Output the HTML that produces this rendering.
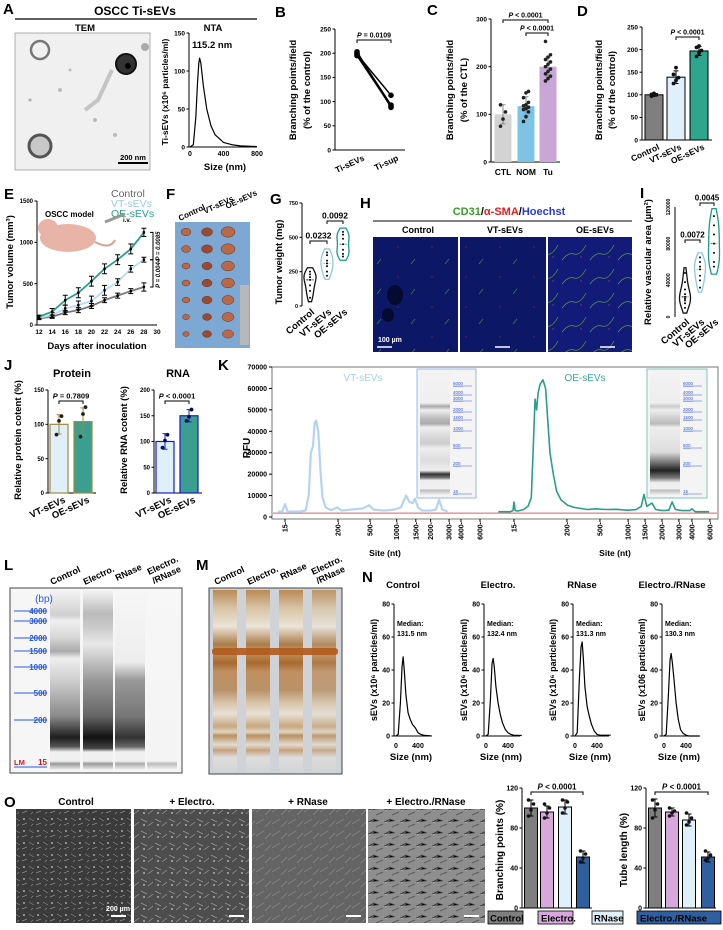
<!DOCTYPE html>
<html><head><meta charset="utf-8"><title>Figure</title>
<style>
html,body{margin:0;padding:0;background:#fff;}
svg{display:block;font-family:"Liberation Sans",Arial,sans-serif;}
.b{font-weight:bold;}
</style></head>
<body>
<svg id="fig" xmlns="http://www.w3.org/2000/svg" width="723" height="930" viewBox="0 0 723 930">
<defs>
<linearGradient id="lgL1" x1="0" y1="0" x2="0" y2="1">
<stop offset="0" stop-color="#f4f4f4"/><stop offset="0.14" stop-color="#cfcfcf"/><stop offset="0.17" stop-color="#f0f0f0"/><stop offset="0.26" stop-color="#d8d8d8"/><stop offset="0.34" stop-color="#aaaaaa"/><stop offset="0.38" stop-color="#eeeeee"/><stop offset="0.5" stop-color="#cfcfcf"/><stop offset="0.7" stop-color="#8a8a8a"/><stop offset="0.82" stop-color="#1e1e1e"/><stop offset="0.87" stop-color="#555"/><stop offset="0.9" stop-color="#f0f0f0"/><stop offset="0.95" stop-color="#f0f0f0"/><stop offset="0.965" stop-color="#999"/><stop offset="1" stop-color="#f4f4f4"/>
</linearGradient>
<linearGradient id="lgL2" x1="0" y1="0" x2="0" y2="1">
<stop offset="0" stop-color="#f4f4f4"/><stop offset="0.13" stop-color="#bbbbbb"/><stop offset="0.2" stop-color="#c8c8c8"/><stop offset="0.3" stop-color="#e8e8e8"/><stop offset="0.5" stop-color="#999"/><stop offset="0.7" stop-color="#666"/><stop offset="0.82" stop-color="#111"/><stop offset="0.88" stop-color="#444"/><stop offset="0.9" stop-color="#f0f0f0"/><stop offset="0.95" stop-color="#f0f0f0"/><stop offset="0.965" stop-color="#999"/><stop offset="1" stop-color="#f4f4f4"/>
</linearGradient>
<linearGradient id="lgL3" x1="0" y1="0" x2="0" y2="1">
<stop offset="0" stop-color="#f6f6f6"/><stop offset="0.4" stop-color="#eeeeee"/><stop offset="0.5" stop-color="#999"/><stop offset="0.7" stop-color="#777"/><stop offset="0.82" stop-color="#333"/><stop offset="0.87" stop-color="#666"/><stop offset="0.9" stop-color="#f0f0f0"/><stop offset="0.95" stop-color="#f0f0f0"/><stop offset="0.965" stop-color="#aaa"/><stop offset="1" stop-color="#f6f6f6"/>
</linearGradient>
<linearGradient id="lgL4" x1="0" y1="0" x2="0" y2="1">
<stop offset="0" stop-color="#f7f7f7"/><stop offset="0.95" stop-color="#f4f4f4"/><stop offset="0.965" stop-color="#bbb"/><stop offset="1" stop-color="#f7f7f7"/>
</linearGradient>
<linearGradient id="lgM" x1="0" y1="0" x2="0" y2="1">
<stop offset="0" stop-color="#b98a55"/><stop offset="0.1" stop-color="#d8c4a4"/><stop offset="0.2" stop-color="#ece4d8"/><stop offset="0.3" stop-color="#a97c48"/><stop offset="0.34" stop-color="#c8a070"/><stop offset="0.36" stop-color="#b8864c"/><stop offset="0.4" stop-color="#a86a2e"/><stop offset="0.45" stop-color="#c09060"/><stop offset="0.55" stop-color="#b89268"/><stop offset="0.62" stop-color="#d8c4a8"/><stop offset="0.68" stop-color="#e8e0d4"/><stop offset="0.75" stop-color="#c8a880"/><stop offset="0.78" stop-color="#e0d4c0"/><stop offset="0.8" stop-color="#b89060"/><stop offset="0.85" stop-color="#e4dcd0"/><stop offset="0.88" stop-color="#c4a27a"/><stop offset="0.92" stop-color="#ddd"/><stop offset="1" stop-color="#d4d4d4"/>
</linearGradient>
<linearGradient id="lgK1" x1="0" y1="0" x2="0" y2="1">
<stop offset="0" stop-color="#f2f2f2"/><stop offset="0.25" stop-color="#f0f0f0"/><stop offset="0.28" stop-color="#aaa"/><stop offset="0.31" stop-color="#eee"/><stop offset="0.38" stop-color="#bbb"/><stop offset="0.42" stop-color="#aaa"/><stop offset="0.45" stop-color="#eee"/><stop offset="0.58" stop-color="#ccc"/><stop offset="0.62" stop-color="#eee"/><stop offset="0.72" stop-color="#ddd"/><stop offset="0.8" stop-color="#eee"/><stop offset="0.83" stop-color="#333"/><stop offset="0.86" stop-color="#777"/><stop offset="0.88" stop-color="#eee"/><stop offset="0.95" stop-color="#f0f0f0"/><stop offset="0.96" stop-color="#bbb"/><stop offset="1" stop-color="#f2f2f2"/>
</linearGradient>
<linearGradient id="lgK2" x1="0" y1="0" x2="0" y2="1">
<stop offset="0" stop-color="#f2f2f2"/><stop offset="0.25" stop-color="#eee"/><stop offset="0.28" stop-color="#ccc"/><stop offset="0.31" stop-color="#eee"/><stop offset="0.38" stop-color="#ccc"/><stop offset="0.42" stop-color="#bbb"/><stop offset="0.45" stop-color="#eee"/><stop offset="0.65" stop-color="#ddd"/><stop offset="0.72" stop-color="#888"/><stop offset="0.8" stop-color="#222"/><stop offset="0.86" stop-color="#777"/><stop offset="0.9" stop-color="#eee"/><stop offset="0.95" stop-color="#f0f0f0"/><stop offset="0.96" stop-color="#bbb"/><stop offset="1" stop-color="#f2f2f2"/>
</linearGradient>
<pattern id="cellsDark" width="14" height="12" patternUnits="userSpaceOnUse">
<rect width="14" height="12" fill="#3b3b3b"/><path d="M1 2 L6 5 M8 9 L13 7 M3 10 L5 8" stroke="#8a8a8a" stroke-width="0.7"/><circle cx="10" cy="3" r="0.9" fill="#c8c8c8"/>
</pattern>
<pattern id="cellsMid" width="14" height="12" patternUnits="userSpaceOnUse">
<rect width="14" height="12" fill="#4d4d4d"/><path d="M1 3 L7 6 M8 10 L13 6" stroke="#999" stroke-width="0.7"/><circle cx="4" cy="9" r="0.9" fill="#ccc"/>
</pattern>
<pattern id="cellsGrey" width="16" height="12" patternUnits="userSpaceOnUse">
<rect width="16" height="12" fill="#646464"/><path d="M0 8 L8 3 M9 11 L15 5" stroke="#8c8c8c" stroke-width="0.7"/>
</pattern>
<pattern id="cellsLight" width="16" height="12" patternUnits="userSpaceOnUse">
<rect width="16" height="12" fill="#8e8e8e"/><path d="M0 6 L6 3 L11 5 M8 11 L15 8" stroke="#4e4e4e" stroke-width="0.7"/><path d="M1 7 L6 4" stroke="#bfbfbf" stroke-width="0.5"/>
</pattern>
<pattern id="fluo" width="34" height="30" patternUnits="userSpaceOnUse">
<rect width="34" height="30" fill="#0c1866"/><path d="M3 24 L7 19" stroke="#3f7a30" stroke-width="0.8"/><circle cx="24" cy="7" r="0.7" fill="#6a2848"/>
</pattern>
<pattern id="fluo2" width="28" height="24" patternUnits="userSpaceOnUse">
<rect width="28" height="24" fill="#121c78"/><path d="M2 20 Q8 12 14 14 T26 5" stroke="#5a9a3e" stroke-width="0.7" fill="none"/><circle cx="21" cy="17" r="0.7" fill="#904060"/>
</pattern>
</defs>

<!-- Panel letters -->
<g class="b" font-size="15">
<text x="3" y="14">A</text>
<text x="275" y="17">B</text>
<text x="427" y="15">C</text>
<text x="577" y="16">D</text>
<text x="4" y="199">E</text>
<text x="166" y="199">F</text>
<text x="270" y="204">G</text>
<text x="360" y="208">H</text>
<text x="640" y="198">I</text>
<text x="4" y="370">J</text>
<text x="218" y="370">K</text>
<text x="4" y="570">L</text>
<text x="196" y="570">M</text>
<text x="362" y="582">N</text>
<text x="4" y="807">O</text>
</g>

<!-- Panel A static -->
<text x="135" y="15" text-anchor="middle" class="b" font-size="12">OSCC Ti-sEVs</text>
<line x1="15" y1="19" x2="257" y2="19" stroke="#000" stroke-width="1.2"/>
<text x="85" y="31" text-anchor="middle" class="b" font-size="9.5">TEM</text>
<g>
<rect x="15" y="33" width="135" height="137" fill="#f0f0f0" stroke="#666" stroke-width="0.5"/>
<circle cx="40" cy="50" r="9" fill="none" stroke="#777" stroke-width="2.5"/>
<circle cx="126" cy="64" r="10" fill="#333" stroke="#111" stroke-width="2"/>
<circle cx="128" cy="66" r="3" fill="#000"/>
<circle cx="40" cy="146" r="11" fill="#c8c8c8" stroke="#555" stroke-width="3"/>
<circle cx="145" cy="47" r="4" fill="#aaa"/>
<path d="M112 70 L98 100 L85 110" stroke="#c4c4c4" stroke-width="4" fill="none"/>
<circle cx="60" cy="90" r="2" fill="#bbb"/><circle cx="95" cy="120" r="2" fill="#bbb"/><circle cx="30" cy="100" r="1.5" fill="#aaa"/><circle cx="115" cy="135" r="2" fill="#bbb"/><circle cx="70" cy="70" r="1.5" fill="#bbb"/>
<line x1="118" y1="163" x2="148" y2="163" stroke="#000" stroke-width="2"/>
<text x="133" y="160" text-anchor="middle" class="b" font-size="7.5">200 nm</text>
</g>
<text x="213" y="31" text-anchor="middle" class="b" font-size="9.5">NTA</text>
<text x="192" y="48" class="b" font-size="9.5">115.2 nm</text>

<!-- Panel E static legend -->
<g font-size="10.5">
<text x="111" y="197" fill="#666">Control</text>
<text x="111" y="207" fill="#9cc8ee">VT-sEVs</text>
<text x="111" y="217" fill="#2aa088">OE-sEVs</text>
</g>
<text x="45" y="217" class="b" font-size="8">OSCC model</text>
<g>
<ellipse cx="68" cy="238" rx="28" ry="14" fill="#e8b4a8"/>
<ellipse cx="48" cy="228" rx="10" ry="9" fill="#e8b4a8"/>
<path d="M95 242 Q110 250 115 240" stroke="#d9a194" stroke-width="2" fill="none"/>
<path d="M105 222 L125 214" stroke="#999" stroke-width="3"/>
<text x="123" y="222" font-size="6" class="b">i.v.</text>
</g>

<!-- F image -->
<g>
<rect x="175" y="222" width="75" height="126" fill="#7ea8d4"/>
<rect x="240" y="285" width="9" height="60" fill="#b8b8b8"/>
</g>
<g class="b" font-size="8">
<text transform="translate(180,221) rotate(-25)">Control</text>
<text transform="translate(205,214) rotate(-25)">VT-sEVs</text>
<text transform="translate(227,209) rotate(-25)">OE-sEVs</text>
</g>

<!-- H images -->
<text x="509" y="215" text-anchor="middle" font-size="11" class="b"><tspan fill="#3a9a2a">CD31</tspan>/<tspan fill="#e02020">α-SMA</tspan>/<tspan fill="#2a3ad0">Hoechst</tspan></text>
<line x1="373" y1="221" x2="632" y2="221" stroke="#000" stroke-width="1"/>
<g class="b" font-size="9" text-anchor="middle">
<text x="418" y="233">Control</text><text x="505" y="233">VT-sEVs</text><text x="595" y="233">OE-sEVs</text>
</g>
<g>
<rect x="373" y="237" width="85" height="115" fill="url(#fluo)"/>
<rect x="460" y="237" width="86" height="115" fill="url(#fluo)"/>
<rect x="548" y="237" width="84" height="115" fill="url(#fluo2)"/>
<ellipse cx="395" cy="295" rx="8" ry="10" fill="#040a30"/><ellipse cx="388" cy="315" rx="6" ry="7" fill="#040a30"/>
<line x1="377" y1="347" x2="392" y2="347" stroke="#fff" stroke-width="1.5"/>
<line x1="495" y1="347" x2="510" y2="347" stroke="#fff" stroke-width="1.5"/>
<line x1="600" y1="347" x2="615" y2="347" stroke="#fff" stroke-width="1.5"/>
<text x="378" y="342" fill="#fff" font-size="7" class="b">100 µm</text>
</g>

<!-- K decoration -->
<rect x="272" y="367" width="446" height="152" fill="none" stroke="#777" stroke-width="1"/>
<text x="363" y="381" text-anchor="middle" fill="#a8ccf0" font-size="10">VT-sEVs</text>
<text x="585" y="381" text-anchor="middle" fill="#3aab94" font-size="10">OE-sEVs</text>
<g>
<rect x="417" y="369" width="59" height="129" fill="#f4f4f4" stroke="#9ab8e8" stroke-width="1"/>
<rect x="420" y="372" width="30" height="123" fill="url(#lgK1)"/>
</g>
<g>
<rect x="647" y="369" width="60" height="129" fill="#f4f4f4" stroke="#7ac8b8" stroke-width="1"/>
<rect x="650" y="372" width="30" height="123" fill="url(#lgK2)"/>
</g>
<text transform="translate(250,448) rotate(-90)" text-anchor="middle" class="b" font-size="10">RFU</text>
<text x="385" y="556" text-anchor="middle" class="b" font-size="8.5">Site (nt)</text>
<text x="615" y="556" text-anchor="middle" class="b" font-size="8.5">Site (nt)</text>

<!-- L gel -->
<g class="b" font-size="9">
<text transform="translate(52,585) rotate(-25)">Control</text>
<text transform="translate(85,585) rotate(-25)">Electro.</text>
<text transform="translate(117,581) rotate(-25)">RNase</text>
<text transform="translate(149,575) rotate(-25)">Electro.</text>
<text transform="translate(154,584) rotate(-25)">/RNase</text>
</g>
<g>
<rect x="10" y="588" width="172" height="185" fill="#f6f6f6" stroke="#444" stroke-width="1"/>
<rect x="50" y="590" width="30" height="180" fill="url(#lgL1)"/>
<rect x="83" y="590" width="30" height="180" fill="url(#lgL2)"/>
<rect x="115" y="590" width="30" height="180" fill="url(#lgL3)"/>
<rect x="147" y="590" width="30" height="180" fill="url(#lgL4)"/>
</g>

<!-- M gel -->
<g class="b" font-size="9">
<text transform="translate(216,585) rotate(-25)">Control</text>
<text transform="translate(249,585) rotate(-25)">Electro.</text>
<text transform="translate(282,580) rotate(-25)">RNase</text>
<text transform="translate(313,575) rotate(-25)">Electro.</text>
<text transform="translate(318,584) rotate(-25)">/RNase</text>
</g>
<g>
<rect x="209" y="588" width="133" height="186" fill="#cfd2d6" stroke="#444" stroke-width="1"/>
<rect x="213" y="590" width="24" height="182" fill="url(#lgM)"/>
<rect x="246" y="590" width="24" height="182" fill="url(#lgM)"/>
<rect x="279" y="590" width="24" height="182" fill="url(#lgM)"/>
<rect x="312" y="590" width="24" height="182" fill="url(#lgM)" opacity="0.85"/>
<rect x="212" y="648" width="126" height="7" rx="3" fill="#b05a1c" opacity="0.9"/>
</g>

<!-- O images -->
<g class="b" font-size="10" text-anchor="middle">
<text x="76" y="805">Control</text><text x="192" y="805">+ Electro.</text><text x="308" y="805">+ RNase</text><text x="426" y="805">+ Electro./RNase</text>
</g>
<g>
<rect x="16" y="809" width="115" height="114" fill="url(#cellsDark)"/>
<rect x="134" y="809" width="115" height="114" fill="url(#cellsMid)"/>
<rect x="252" y="809" width="114" height="114" fill="url(#cellsGrey)"/>
<rect x="368" y="809" width="117" height="114" fill="url(#cellsLight)"/>
<line x1="111" y1="916" x2="126" y2="916" stroke="#fff" stroke-width="2"/>
<line x1="229" y1="916" x2="244" y2="916" stroke="#fff" stroke-width="2"/>
<line x1="346" y1="916" x2="361" y2="916" stroke="#fff" stroke-width="2"/>
<line x1="464" y1="916" x2="479" y2="916" stroke="#fff" stroke-width="2"/>
<text x="118" y="911" fill="#fff" font-size="7" class="b" text-anchor="middle">200 µm</text>
</g>
<g class="b" font-size="9.5">
<rect x="488" y="911" width="35" height="13" fill="#7f7f7f" stroke="#000" stroke-width="0.8"/>
<text x="490" y="921.5">Control</text>
<rect x="538" y="911" width="35" height="13" fill="#d8a8dc" stroke="#000" stroke-width="0.8"/>
<text x="541" y="921.5">Electro.</text>
<rect x="592" y="911" width="31" height="13" fill="#dff0fb" stroke="#000" stroke-width="0.8"/>
<text x="594" y="921.5">RNase</text>
<rect x="637" y="911" width="84" height="13" fill="#2f5f9e" stroke="#000" stroke-width="0.8"/>
<text x="640" y="921.5">Electro./RNase</text>
</g>

<g id="charts"></g>
</svg>

<script>
// ===== DATA =====
const ntaSizes = [0, 40, 70, 90, 105, 115, 130, 160, 200, 250, 300, 400, 500, 600, 800];
const ntaConc  = [0, 3, 40, 85, 110, 117, 110, 80, 50, 28, 16, 6, 3, 1.5, 0.5];
const bCats = ['Ti-sEVs', 'Ti-sup'];
const bTiSEVs = [195, 200, 198, 203];
const bTiSup = [90, 93, 113, 88];
const cCats = ['CTL', 'NOM', 'Tu'];
const cMeans = [100, 117, 200];
const cSD = [20, 20, 20];
const cPtsCTL = [75, 90, 105, 120];
const cPtsNOM = [85, 95, 105, 110, 112, 115, 118, 120, 125, 135, 145, 148];
const cPtsTu = [170, 175, 180, 185, 190, 195, 200, 205, 210, 215, 220, 225, 253];
const dCats = ['Control', 'VT-sEVs', 'OE-sEVs'];
const dMeans = [100, 139, 197];
const dSD = [3, 14, 10];
const dPtsControl = [97, 99, 100, 101, 103];
const dPtsVT = [125, 132, 138, 145, 160];
const dPtsOE = [185, 192, 198, 205, 208];
const eDays = [12, 14, 16, 18, 20, 22, 24, 26, 28];
const eControl = [80, 100, 150, 180, 230, 300, 355, 410, 460];
const eVT = [90, 120, 200, 240, 290, 420, 520, 680, 790];
const eOE = [100, 160, 300, 390, 530, 680, 790, 920, 1120];
const eErrControl = [15, 20, 25, 30, 30, 30, 30, 30, 50];
const eErrVT = [20, 30, 40, 50, 60, 60, 40, 40, 30];
const eErrOE = [20, 40, 60, 60, 60, 60, 60, 60, 50];
const gCats = ['Control', 'VT-sEVs', 'OE-sEVs'];
const gControl = [60, 110, 150, 190, 210, 230, 250];
const gVT = [220, 250, 290, 310, 330, 370, 390];
const gOE = [360, 380, 410, 450, 490, 520, 540];
const iCats = ['Control', 'VT-sEVs', 'OE-sEVs'];
const iControl = [10000, 15000, 18000, 20000, 22000, 25000, 30000, 38000, 48000];
const iVT = [32000, 40000, 45000, 52000, 55000, 60000, 65000];
const iOE = [55000, 60000, 70000, 80000, 90000, 100000, 110000];
const jCats = ['VT-sEVs', 'OE-sEVs'];
const jProtein = [100, 104];
const jProteinSD = [14, 20];
const jProteinPts = [[85, 105, 112], [82, 115, 125]];
const jRNA = [100, 150];
const jRNASD = [15, 12];
const jRNAPts = [[88, 102, 113], [140, 148, 162]];
const kTickSitesL = [15, 200, 500, 1000, 1500, 2000, 3000, 4000, 6000];
const kTickTimesL = [3.3, 28.3, 43.4, 56, 65, 72, 80.7, 86.3, 95.3];
const kTickSitesR = [15, 200, 500, 1000, 1500, 2000, 3000, 4000, 6000];
const kTickTimesR = [8.6, 32.7, 47.7, 60.5, 68.2, 75.9, 83.6, 89.5, 97.7];
const kRfuTicks = [0, 10000, 20000, 30000, 40000, 50000, 60000, 70000];
const kVTtime = [0, 2, 3.3, 4.5, 10, 13, 14.5, 15.5, 16.5, 17.3, 18, 19, 20, 21, 22.5, 25, 28, 30, 35, 40, 43, 45, 50, 55, 58, 60.4, 62, 63.5, 64.6, 66, 68, 72, 74.5, 76, 77.5, 80];
const kVTrfu  = [2500, 2500, 6000, 2500, 2500, 3000, 10000, 30000, 33000, 44000, 45000, 40000, 22000, 9000, 4500, 3200, 4500, 3000, 3500, 4000, 5500, 3500, 3000, 3500, 4500, 10000, 7000, 6500, 8500, 4500, 3000, 3000, 3500, 8000, 3500, 2500];
const kOEtime = [1.5, 7, 8.2, 8.6, 9.2, 10.5, 13, 15, 16.5, 17.3, 18.2, 18.9, 19.6, 20.5, 21.8, 23, 24, 25, 26.5, 28, 30, 33, 36, 42, 46, 50, 55, 60, 64, 66.5, 67.7, 69, 71.4, 73, 76, 79, 80.5, 82, 85, 88.5, 89.5, 91, 97.3];
const kOErfu  = [2500, 2500, 3000, 7000, 3000, 2800, 3500, 5000, 9000, 30000, 55000, 50000, 58000, 62000, 64000, 60000, 45000, 30000, 20000, 12000, 8000, 5500, 4500, 3500, 3800, 3500, 3600, 3200, 3400, 5000, 10500, 5000, 6500, 3500, 3000, 3200, 7000, 3500, 3000, 3000, 3800, 2500, 2500];
const kLadderSites = ['6000', '4000', '3000', '2000', '1500', '1000', '500', '200', '15'];
const lLadder = ['4000', '3000', '2000', '1500', '1000', '500', '200'];
const nCats = ['Control', 'Electro.', 'RNase', 'Electro./RNase'];
const nMedians = ['131.5 nm', '132.4 nm', '131.3 nm', '130.3 nm'];
const nSizes = [0, 40, 80, 110, 130, 150, 180, 220, 260, 300, 350, 400, 450, 500, 650];
const nControl = [0, 1, 20, 42, 48, 40, 25, 14, 10, 7, 5, 2, 1, 0.5, 0];
const nElectro = [0, 1, 22, 44, 47, 42, 30, 20, 13, 8, 4, 2, 1, 0.5, 0.3];
const nRNase = [0, 2, 35, 54, 57, 48, 30, 18, 12, 7, 3, 1, 0.5, 0.5, 0.5];
const nER = [0, 1, 25, 46, 50, 45, 35, 20, 10, 4, 1.5, 0.5, 0, 0, 0];
const oCats = ['Control', 'Electro.', 'RNase', 'Electro./RNase'];
const oBranch = [100, 96, 101, 51];
const oBranchSD = [8, 6, 7, 6];
const oBranchPts = [[92, 98, 104, 108], [90, 95, 100, 104], [95, 100, 106, 108], [46, 50, 54, 57]];
const oTube = [100, 96, 88, 51];
const oTubeSD = [9, 4, 6, 5];
const oTubePts = [[90, 98, 104, 108], [92, 95, 97, 100], [83, 86, 90, 95], [48, 50, 53, 57]];
const fTumorControl = [5, 4.5, 4, 4, 3.8, 3.5, 3.2];
const fTumorVT = [5.5, 5.5, 5, 5, 5, 4.5, 4.5];
const fTumorOE = [7, 7, 6.5, 6.5, 6, 6, 5.5];

// ===== HELPERS =====
const NS = 'http://www.w3.org/2000/svg';
const root = document.getElementById('charts');
function mk(tag, attrs, parent) {
  const e = document.createElementNS(NS, tag);
  for (const k in attrs) e.setAttribute(k, attrs[k]);
  (parent || root).appendChild(e);
  return e;
}
function txt(s, x, y, size, opts, parent) {
  const a = Object.assign({x: x, y: y, 'font-size': size, 'font-weight': 'bold'}, opts || {});
  const e = mk('text', a, parent);
  e.textContent = s;
  return e;
}
function lin(d0, d1, r0, r1) { return v => r0 + (v - d0) / (d1 - d0) * (r1 - r0); }
function yAxis(g, x, ys, ticks, fs, labels) {
  const ax = mk('line', {x1: x, y1: ys(ticks[0]), x2: x, y2: ys(ticks[ticks.length - 1]), stroke: '#000', 'stroke-width': 1}, g);
  
  
  ticks.forEach((t, i) => {
    const tk = mk('line', {x1: x - 2.5, y1: ys(t), x2: x, y2: ys(t), stroke: '#000', 'stroke-width': 1}, g);
    
    
    const lb = txt(labels ? labels[i] : String(t), x - 4, ys(t) + fs * 0.35, fs, {'text-anchor': 'end'}, g);
    
    
  });
}
function xAxisLine(g, x0, x1, y) {
  const ax = mk('line', {x1: x0, y1: y, x2: x1, y2: y, stroke: '#000', 'stroke-width': 1}, g);
  
  
}
function yTitle(g, s, x, y, size) {
  const e = txt(s, 0, 0, size, {'text-anchor': 'middle', transform: 'translate(' + x + ',' + y + ') rotate(-90)'}, g);
  
  
  return e;
}
function rotLabel(g, s, x, y, size, ang) {
  const e = txt(s, 0, 0, size, {'text-anchor': 'end', transform: 'translate(' + x + ',' + y + ') rotate(' + ang + ')'}, g);
  
  
}
function bracket(g, x0, x1, y, label, fs, italicP) {
  const p = mk('path', {d: 'M' + x0 + ' ' + (y + 3) + ' V' + y + ' H' + x1 + ' V' + (y + 3), fill: 'none', stroke: '#000', 'stroke-width': 1}, g);
  
  
  const t = txt('', (x0 + x1) / 2, y - 2.5, fs, {'text-anchor': 'middle'}, g);
  if (italicP) {
    const ts = document.createElementNS(NS, 'tspan'); ts.setAttribute('font-style', 'italic'); ts.textContent = 'P'; t.appendChild(ts);
    t.appendChild(document.createTextNode(label));
  } else t.textContent = label;
  
  
}
function dots(g, cx, pts, ys, r, fill) {
  pts.forEach((v, i) => {
    const off = ((i % 3) - 1) * 2.5;
    const c = mk('circle', {cx: cx + off, cy: ys(v), r: r, fill: fill || '#111'}, g);
    
    
  });
}
function errbar(g, cx, mean, sd, ys, color) {
  const e = mk('path', {d: 'M' + cx + ' ' + ys(mean - sd) + ' V' + ys(mean + sd) + ' M' + (cx - 2.5) + ' ' + ys(mean + sd) + ' H' + (cx + 2.5) + ' M' + (cx - 2.5) + ' ' + ys(mean - sd) + ' H' + (cx + 2.5), stroke: color || '#000', 'stroke-width': 1, fill: 'none'}, g);
  
  
}
function violin(g, cx, pts, ys, halfw, color) {
  const lo = Math.min.apply(null, pts), hi = Math.max.apply(null, pts);
  const span = hi - lo, bw = span * 0.22;
  const ext0 = lo - span * 0.15, ext1 = hi + span * 0.15;
  const steps = 30; let dens = [];
  for (let i = 0; i <= steps; i++) {
    const v = ext0 + (ext1 - ext0) * i / steps;
    let d = 0; pts.forEach(p => { d += Math.exp(-0.5 * Math.pow((v - p) / bw, 2)); });
    dens.push([v, d]);
  }
  const mx = Math.max.apply(null, dens.map(a => a[1]));
  let right = dens.map(a => (cx + a[1] / mx * halfw) + ',' + ys(a[0]));
  let left = dens.slice().reverse().map(a => (cx - a[1] / mx * halfw) + ',' + ys(a[0]));
  const p = mk('polygon', {points: right.concat(left).join(' '), fill: '#fff', stroke: color, 'stroke-width': 1.3}, g);
  
  
  const sorted = pts.slice().sort((a, b) => a - b);
  const med = sorted[Math.floor(sorted.length / 2)];
  const m = mk('line', {x1: cx - halfw * 0.6, x2: cx + halfw * 0.6, y1: ys(med), y2: ys(med), stroke: color, 'stroke-width': 1, 'stroke-dasharray': '2,1'}, g);
  
  
  pts.forEach(v => {
    const c = mk('circle', {cx: cx, cy: ys(v), r: 1, fill: '#000'}, g);
    
    
  });
}

// ===== A: NTA =====
(function () {
  const g = mk('g', {});
  
  
  const xs = lin(0, 800, 190, 257), ys = lin(0, 150, 147, 33);
  yAxis(g, 189, ys, [0, 50, 100, 150], 6.5);
  xAxisLine(g, 189, 257, 147);
  [0, 400, 800].forEach(v => {
    const t = txt(String(v), xs(v), 156, 7, {'text-anchor': 'middle'}, g);
    
    
  });
  const d = ntaSizes.map((s, i) => (i ? 'L' : 'M') + xs(s) + ' ' + ys(ntaConc[i])).join(' ');
  const p = mk('path', {d: d, fill: 'none', stroke: '#000', 'stroke-width': 1.2, 'stroke-linejoin': 'round'}, g);
  
  
  const xt = txt('Size (nm)', 225, 170, 9.5, {'text-anchor': 'middle'}, g);
  
  
  yTitle(g, 'Ti-sEVs (x10⁶ particles/ml)', 168, 92, 8.5);
})();

// ===== B =====
(function () {
  const g = mk('g', {});
  
  
  const ys = lin(0, 250, 150, 29), xs = [357, 391];
  yAxis(g, 335, ys, [0, 50, 100, 150, 200, 250], 6.5);
  xAxisLine(g, 335, 405, 150);
  bTiSEVs.forEach((v, i) => {
    const l = mk('line', {x1: xs[0], y1: ys(v), x2: xs[1], y2: ys(bTiSup[i]), stroke: '#000', 'stroke-width': 1.5}, g);
    
    
    const c1 = mk('circle', {cx: xs[0], cy: ys(v), r: 2.8, fill: '#000'}, g);
    
    
    const c2 = mk('circle', {cx: xs[1], cy: ys(bTiSup[i]), r: 2.8, fill: '#000'}, g);
    
    
  });
  bracket(g, xs[0], xs[1], 40, ' = 0.0109', 7, true);
  bCats.forEach((c, i) => rotLabel(g, c, xs[i] + 8, 160, 8.5, -25));
  yTitle(g, 'Branching points/field', 296, 90, 9.5);
  yTitle(g, '(% of the control)', 310, 90, 9.5);
})();

// ===== C =====
(function () {
  const g = mk('g', {});
  
  
  const ys = lin(0, 300, 162, 19), xs = [503, 526, 548];
  const cols = ['#d3d3d3', '#7cc3e6', '#c9a6d8'];
  const pts = [cPtsCTL, cPtsNOM, cPtsTu];
  yAxis(g, 491, ys, [0, 100, 200, 300], 6.5);
  xAxisLine(g, 491, 560, 162);
  cMeans.forEach((m, i) => {
    const r = mk('rect', {x: xs[i] - 8.5, y: ys(m), width: 17, height: ys(0) - ys(m), fill: cols[i]}, g);
    
    
    errbar(g, xs[i], m, cSD[i], ys, '#888');
    dots(g, xs[i], pts[i], ys, 1.8, '#222');
    const t = txt(cCats[i], xs[i], 175, 8.5, {'text-anchor': 'middle'}, g);
    
    
  });
  bracket(g, xs[0], xs[2], 20, ' < 0.0001', 7, true);
  bracket(g, xs[1], xs[2], 33, ' < 0.0001', 7, true);
  yTitle(g, 'Branching points/field', 453, 90, 9.5);
  yTitle(g, '(% of the CTL)', 467, 90, 9.5);
})();

// ===== D =====
(function () {
  const g = mk('g', {});
  
  
  const ys = lin(0, 250, 140, 27), xs = [654, 676, 699];
  const cols = ['#7f7f7f', '#dff0fb', '#2fa58e'];
  const pts = [dPtsControl, dPtsVT, dPtsOE];
  yAxis(g, 642, ys, [0, 50, 100, 150, 200, 250], 6.5);
  xAxisLine(g, 642, 712, 140);
  dMeans.forEach((m, i) => {
    const r = mk('rect', {x: xs[i] - 9, y: ys(m), width: 18, height: ys(0) - ys(m), fill: cols[i], stroke: '#000', 'stroke-width': 1}, g);
    
    
    errbar(g, xs[i], m, dSD[i], ys);
    dots(g, xs[i], pts[i], ys, 1.9);
    rotLabel(g, dCats[i], xs[i] + 6, 149, 8.5, -25);
  });
  bracket(g, xs[1], xs[2], 37, ' < 0.0001', 7, true);
  yTitle(g, 'Branching points/field', 602, 90, 9.5);
  yTitle(g, '(% of the control)', 615, 90, 9.5);
})();

// ===== E =====
(function () {
  const g = mk('g', {});
  
  
  const xs = lin(12, 30, 39, 157), ys = lin(0, 1500, 325, 201);
  yAxis(g, 37, ys, [0, 500, 1000, 1500], 6);
  xAxisLine(g, 37, 157, 325);
  [12, 14, 16, 18, 20, 22, 24, 26, 28, 30].forEach(d => {
    const t = txt(String(d), xs(d), 334, 6.5, {'text-anchor': 'middle'}, g);
    
    
  });
  const series = [[eControl, eErrControl, '#7a7a7a', 'line-control'], [eVT, eErrVT, '#b8dcf4', 'line-vt-sevs'], [eOE, eErrOE, '#2aa088', 'line-oe-sevs']];
  series.forEach(s => {
    const d = eDays.map((day, i) => (i ? 'L' : 'M') + xs(day) + ' ' + ys(s[0][i])).join(' ');
    const p = mk('path', {d: d, fill: 'none', stroke: s[2], 'stroke-width': 1.8}, g);
    
    
    eDays.forEach((day, i) => {
      errbar(g, xs(day), s[0][i], s[1][i], ys, '#000');
      const c = mk('rect', {x: xs(day) - 1.2, y: ys(s[0][i]) - 1.2, width: 2.4, height: 2.4, fill: '#000'}, g);
      
      
    });
  });
  const b1 = mk('path', {d: 'M150 ' + ys(eOE[8]) + ' H153 V' + ys(eVT[8]) + ' H150', fill: 'none', stroke: '#000'}, g);
  
  
  const b2 = mk('path', {d: 'M150 ' + ys(eVT[8]) + ' H153 V' + ys(eControl[8]) + ' H150', fill: 'none', stroke: '#000'}, g);
  
  
  const p1 = txt('P = 0.0085', 0, 0, 6, {'text-anchor': 'middle', 'font-style': 'italic', transform: 'translate(160,' + (ys(eOE[8]) + ys(eVT[8])) / 2 + ') rotate(-90)'}, g);
  
  
  const p2 = txt('P = 0.0044', 0, 0, 6, {'text-anchor': 'middle', 'font-style': 'italic', transform: 'translate(160,' + (ys(eVT[8]) + ys(eControl[8])) / 2 + ') rotate(-90)'}, g);
  
  
  const xt = txt('Days after inoculation', 97, 349, 9.5, {'text-anchor': 'middle'}, g);
  
  
  yTitle(g, 'Tumor volume (mm³)', 13, 262, 9.5);
})();

// ===== F tumors =====
(function () {
  const g = mk('g', {});
  
  
  [fTumorControl, fTumorVT, fTumorOE].forEach((arr, c) => {
    arr.forEach((r, i) => {
      const e = mk('ellipse', {cx: 186 + c * 21, cy: 232 + i * 17, rx: r, ry: r * 0.75, fill: c === 1 ? '#9a4a30' : '#b86a48', stroke: '#6a2e1c', 'stroke-width': 0.5}, g);
      
      
    });
  });
})();

// ===== G =====
(function () {
  const g = mk('g', {});
  
  
  const ys = lin(0, 750, 306, 203), xs = [310, 327, 343];
  yAxis(g, 302, ys, [0, 250, 500, 750], 5.5);
  [gControl, gVT, gOE].forEach((arr, i) => violin(g, xs[i], arr, ys, 6, ['#111', '#8cc8e8', '#1a9a88'][i]));
  bracket(g, xs[0], xs[1], 241, '0.0232', 8.5, false);
  bracket(g, xs[1], xs[2], 221, '0.0092', 8.5, false);
  gCats.forEach((c, i) => rotLabel(g, c, xs[i] + 5, 313, 9.5, -40));
  yTitle(g, 'Tumor weight (mg)', 282, 262, 9.5);
})();

// ===== I =====
(function () {
  const g = mk('g', {});
  
  
  const ys = lin(0, 120000, 317, 207), xs = [685, 700, 714];
  const ax = mk('line', {x1: 675, y1: 317, x2: 675, y2: 207, stroke: '#000'}, g);
  
  
  [0, 40000, 80000, 120000].forEach(t => {
    const lb = txt(String(t), 0, 0, 5, {'text-anchor': 'middle', transform: 'translate(670,' + ys(t) + ') rotate(-90)'}, g);
    
    
  });
  [iControl, iVT, iOE].forEach((arr, i) => violin(g, xs[i], arr, ys, 5.5, ['#111', '#8cc8e8', '#1a9a88'][i]));
  bracket(g, xs[0], xs[1], 240, '0.0072', 8, false);
  bracket(g, xs[1], xs[2], 203, '0.0045', 8, false);
  iCats.forEach((c, i) => rotLabel(g, c, xs[i] + 5, 323, 9.5, -40));
  yTitle(g, 'Relative vascular area (µm²)', 651, 262, 9.5);
})();

// ===== J =====
function jChart(name, title, ax, vals, sd, pts, yMax, ticks, stroke, ptitle, ylab) {
  const g = mk('g', {});
  
  
  const ys = lin(0, yMax, 493, 390);
  const xs = [ax + 11, ax + 35];
  yAxis(g, ax, ys, ticks, 6);
  xAxisLine(g, ax, ax + 48, 493);
  const tt = txt(title, ax + 24, 377, 11, {'text-anchor': 'middle'}, g);
  
  
  const fills = ['#dff0fb', '#3a9f8e'];
  vals.forEach((v, i) => {
    const r = mk('rect', {x: xs[i] - 9, y: ys(v), width: 18, height: ys(0) - ys(v), fill: fills[i], stroke: stroke, 'stroke-width': 1.2}, g);
    
    
    errbar(g, xs[i], v, sd[i], ys, stroke);
    dots(g, xs[i], pts[i], ys, 1.9, stroke === '#a08a3c' ? '#222' : '#0a0a60');
    rotLabel(g, jCats[i], xs[i] + 7, 502, 9.5, -25);
  });
  bracket(g, xs[0], xs[1], 401, ptitle, 7.5, true);
  yTitle(g, ylab, ax - 27, 440, 9.5);
}
jChart('protein-content-chart', 'Protein', 48, jProtein, jProteinSD, jProteinPts, 150, [0, 50, 100, 150], '#a08a3c', ' = 0.7809', 'Relative protein cotent (%)');
jChart('rna-content-chart', 'RNA', 154, jRNA, jRNASD, jRNAPts, 200, [0, 50, 100, 150, 200], '#1a1acc', ' < 0.0001', 'Relative RNA cotent (%)');

// ===== K =====
(function () {
  const g = mk('g', {});
  
  
  const ys = lin(0, 70000, 517, 367);
  const xL = lin(0, 100, 278, 490), xR = lin(0, 100, 495, 715);
  kRfuTicks.forEach(t => {
    const tk = mk('line', {x1: 269, x2: 272, y1: ys(t), y2: ys(t), stroke: '#000'}, g);
    
    
    const lb = txt(String(t), 267, ys(t) + 2.5, 7, {'text-anchor': 'end'}, g);
    
    
  });
  const base = mk('line', {x1: 273, x2: 717, y1: ys(1800), y2: ys(1800), stroke: '#e05a6a', 'stroke-width': 1}, g);
  
  
  const dv = kVTtime.map((t, i) => (i ? 'L' : 'M') + xL(t) + ' ' + ys(kVTrfu[i])).join(' ');
  const pv = mk('path', {d: dv, fill: 'none', stroke: '#b4d4f4', 'stroke-width': 2.2, 'stroke-linejoin': 'round'}, g);
  
  
  const dO = kOEtime.map((t, i) => (i ? 'L' : 'M') + xR(t) + ' ' + ys(kOErfu[i])).join(' ');
  const po = mk('path', {d: dO, fill: 'none', stroke: '#2a9e86', 'stroke-width': 1.6, 'stroke-linejoin': 'round'}, g);
  
  
  kTickSitesL.forEach((s, i) => {
    const x = xL(kTickTimesL[i]);
    const tk = mk('line', {x1: x, x2: x, y1: 519, y2: 522, stroke: '#000'}, g);
    
    
    const lb = txt(String(s) + '-', 0, 0, 7, {'text-anchor': 'end', transform: 'translate(' + (x + 2.5) + ',522) rotate(-90)'}, g);
    
    
  });
  kTickSitesR.forEach((s, i) => {
    const x = xR(kTickTimesR[i]);
    const tk = mk('line', {x1: x, x2: x, y1: 519, y2: 522, stroke: '#000'}, g);
    
    
    const lb = txt(String(s) + '-', 0, 0, 7, {'text-anchor': 'end', transform: 'translate(' + (x + 2.5) + ',522) rotate(-90)'}, g);
    
    
  });
  const ly = [385, 394, 400, 411, 419, 430, 447, 465, 493];
  [453, 683].forEach(x0 => {
    kLadderSites.forEach((s, i) => {
      const t = txt(s, x0, ly[i], 4.5, {fill: '#3a5ad8', 'font-weight': 'normal', 'text-decoration': 'underline'}, g);
      
      
      const l = mk('line', {x1: x0, x2: x0 + 19, y1: ly[i] + 1, y2: ly[i] + 1, stroke: '#3a5ad8', 'stroke-width': 0.6}, g);
      
      
    });
  });
})();

// ===== L ladder =====
(function () {
  const g = mk('g', {});
  
  
  const ly = [611, 621, 638, 651, 667, 693, 720];
  const bp = txt('(bp)', 44, 602, 10, {'text-anchor': 'middle', fill: '#2a5ad8', 'font-weight': 'normal'}, g);
  
  
  lLadder.forEach((s, i) => {
    const l = mk('line', {x1: 14, x2: 47, y1: ly[i], y2: ly[i], stroke: '#2a5ad8', 'stroke-width': 1}, g);
    
    
    const t = txt(s, 47, ly[i] + 3, 8, {'text-anchor': 'end', fill: '#2a5ad8'}, g);
    
    
  });
  const lm = txt('LM', 14, 765, 7.5, {fill: '#d01a1a'}, g);
  
  
  const l15 = txt('15', 47, 765, 8, {'text-anchor': 'end', fill: '#d01a1a'}, g);
  
  
  const ll = mk('line', {x1: 14, x2: 47, y1: 767, y2: 767, stroke: '#2a5ad8'}, g);
  
  
})();

// ===== N =====
(function () {
  const axes = [394, 484, 573, 662];
  const titleX = [403, 498, 582, 672];
  const data = [nControl, nElectro, nRNase, nER];
  const ylabs = ['sEVs (x10⁶ particles/ml)', 'sEVs (x10⁶ particles/ml)', 'sEVs (x10⁶ particles/ml)', 'sEVs (x106 particles/ml)'];
  nCats.forEach((c, k) => {
    const g = mk('g', {});
    
    
    const ax = axes[k];
    const xs = lin(0, 400, ax + 2, ax + 24), ys = lin(0, 80, 736, 604);
    yAxis(g, ax, ys, [0, 20, 40, 60, 80], 7);
    xAxisLine(g, ax, ax + 36, 736);
    [0, 400].forEach(v => {
      const t = txt(String(v), xs(v), 748, 7, {'text-anchor': 'middle'}, g);
      
      
    });
    const tt = txt(c, titleX[k], 588, 9.5, {'text-anchor': 'middle'}, g);
    
    
    const m1 = txt('Median:', ax + 3, 626, 7, {}, g);
    
    
    const m2 = txt(nMedians[k], ax + 3, 636, 7, {}, g);
    
    
    const d = nSizes.map((s, i) => (i ? 'L' : 'M') + xs(s) + ' ' + ys(data[k][i])).join(' ');
    const p = mk('path', {d: d, fill: 'none', stroke: '#000', 'stroke-width': 1.2, 'stroke-linejoin': 'round'}, g);
    
    
    const xt = txt('Size (nm)', ax + 17, 760, 9.5, {'text-anchor': 'middle'}, g);
    
    
    yTitle(g, ylabs[k], ax - 17, 670, 9);
  });
})();

// ===== O bars =====
function oChart(name, ax, xs, vals, sd, pts, ylab) {
  const g = mk('g', {});
  
  
  const ys = lin(0, 120, 908, 788);
  yAxis(g, ax, ys, [0, 40, 80, 120], 7);
  xAxisLine(g, ax, ax + 70, 908);
  const cols = ['#7f7f7f', '#d8a8dc', '#dff0fb', '#2f5f9e'];
  vals.forEach((v, i) => {
    const r = mk('rect', {x: xs[i] - 6.5, y: ys(v), width: 13, height: ys(0) - ys(v), fill: cols[i], stroke: '#000', 'stroke-width': 1}, g);
    
    
    errbar(g, xs[i], v, sd[i], ys);
    dots(g, xs[i], pts[i], ys, 1.8);
  });
  bracket(g, xs[0], xs[3], 792, ' < 0.0001', 8, true);
  yTitle(g, ylab, ax - 19, 850, 10);
}
oChart('branching-points-chart', 522, [531, 547, 565, 583], oBranch, oBranchSD, oBranchPts, 'Branching points (%)');
oChart('tube-length-chart', 646, [655, 672, 689, 708], oTube, oTubeSD, oTubePts, 'Tube length (%)');
</script>
</body></html>
